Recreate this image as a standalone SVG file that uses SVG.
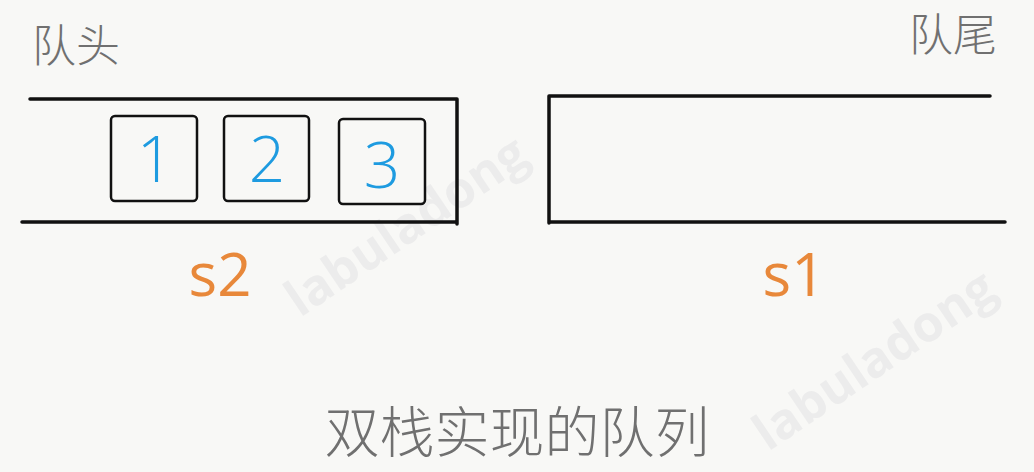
<svg xmlns="http://www.w3.org/2000/svg" width="1034" height="472" viewBox="0 0 1034 472">
<style>
.cjk{font-family:"Noto Sans CJK SC","Noto Sans",sans-serif;fill:#707070;font-weight:300}
.ln{stroke:#111;stroke-width:3.5;stroke-linecap:round;fill:none}
.cell{fill:none;stroke:#111;stroke-width:2.5}
.num{font-family:"Open Sans","Noto Sans",sans-serif;fill:#1e9be0;font-size:64px;font-weight:300;text-anchor:middle}
.lbl{font-family:"Open Sans","Noto Sans",sans-serif;fill:#e8883a;font-size:60px;font-weight:400;text-anchor:middle}
.wm{font-family:"Open Sans","Noto Sans",sans-serif;font-weight:700;font-size:50px;fill:#ececec}
</style>
<rect width="1034" height="472" fill="#f8f8f6"/>
<g id="watermarks">
<text class="wm" x="300" y="318" transform="rotate(-34 300 318)">labuladong</text>
<text class="wm" x="768" y="452" font-size="46" transform="rotate(-34 768 452)">labuladong</text>
</g>
<g id="queue-head"><text class="cjk" x="32" y="62" font-size="44">队头</text></g>
<g id="queue-tail"><text class="cjk" x="909" y="51" font-size="44">队尾</text></g>
<g id="s2">
<path class="ln" d="M30 99 L457 99 M22 222 L455 222 M457 99 L457 224"/>
<text class="lbl" x="220" y="296">s2</text>
</g>
<g id="cell1"><rect class="cell" x="111" y="116" width="86" height="85" rx="4"/><text class="num" x="155" y="182">1</text></g>
<g id="cell2"><rect class="cell" x="224" y="116" width="85" height="85" rx="4"/><text class="num" x="267" y="182">2</text></g>
<g id="cell3"><rect class="cell" x="339" y="119" width="86" height="85" rx="4"/><text class="num" x="382" y="188">3</text></g>
<g id="s1">
<path class="ln" d="M549 96 L990 96 M549 222 L1005 222 M549 96 L549 223"/>
<text class="lbl" x="794" y="296">s1</text>
</g>
<g id="connectors"/>
<g id="title"><text class="cjk" x="517" y="452" font-size="55" text-anchor="middle">双栈实现的队列</text></g>
</svg>
